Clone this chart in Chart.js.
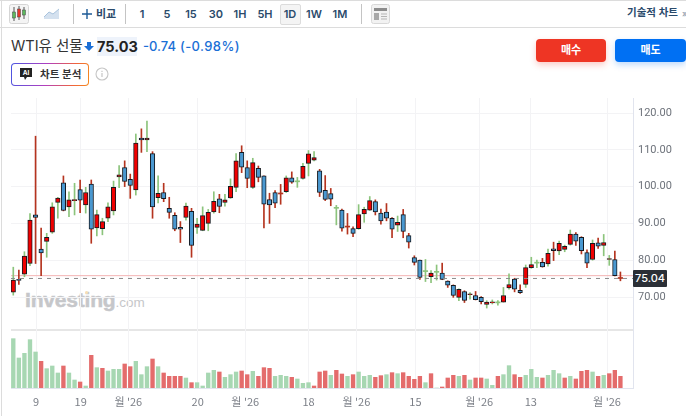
<!DOCTYPE html>
<html lang="ko">
<head>
<meta charset="utf-8">
<title>WTI유 선물</title>
<script src="https://cdn.jsdelivr.net/npm/chart.js@4/dist/chart.umd.min.js"></script>
<style>
  html, body { margin: 0; padding: 0; background: #fff; }
  body { width: 686px; height: 416px; overflow: hidden; position: relative; font-family: Inter, "Noto Sans CJK KR", sans-serif; color: #1f2a37; }
  .abs { position: absolute; white-space: nowrap; }
  #grafico { position: absolute; left: 0; top: 0; }
  .tb { top: 5px; height: 18px; line-height: 18px; font-size: 11px; font-weight: 600; color: #2a4a6b; text-align: center; width: 24px; }
  .hline { height: 1px; background: #dcdcdc; left: 0; width: 686px; }
  .vline { width: 1px; background: #c4c4c4; top: 4px; height: 20px; }
  .marca { left: 25px; top: 288px; font-family: "Liberation Sans", sans-serif; color: #c6c7ca; font-size: 21px; font-weight: 700; letter-spacing: -0.2px; -webkit-text-stroke: 0.5px #c6c7ca; }
  .marca span { font-size: 13.5px; font-weight: 400; letter-spacing: 0; -webkit-text-stroke: 0; }
  .btn { top: 39px; height: 23px; line-height: 23px; border-radius: 4px; color: #fff; font-size: 11px; font-weight: 700; text-align: center; }
</style>
</head>
<body>
<div class="abs hline" style="top:0"></div>
<div class="abs hline" style="top:27px"></div>
<div class="abs" style="left:1px;top:0;width:1px;height:416px;background:#dcdcdc"></div>

<svg class="abs" style="left:9px;top:4px" width="20" height="20">
  <rect x="0.5" y="0.5" width="19" height="19" rx="2" fill="#f4f4f4" stroke="#d5d5d5"/>
  <path d="M5 3v14M10 2v14M15 3v12" stroke="#555" stroke-width="1"/>
  <rect x="3.5" y="8" width="3" height="6" fill="#5cb85c" stroke="#444" stroke-width="0.5"/>
  <rect x="8.5" y="5" width="3" height="8" fill="#e8352a" stroke="#444" stroke-width="0.5"/>
  <rect x="13.5" y="6" width="3" height="5" fill="#5cb85c" stroke="#444" stroke-width="0.5"/>
</svg>
<svg class="abs" style="left:44px;top:8px" width="16" height="12">
  <path d="M0 9 L5 4 L9 6 L15 1 V11 H0 Z" fill="#d4e1ef"/>
  <path d="M0 9 L5 4 L9 6 L15 1" fill="none" stroke="#a9c3dd"/>
</svg>
<div class="abs vline" style="left:73px"></div>
<svg class="abs" style="left:81px;top:8px" width="12" height="12"><path d="M6 1v10M1 6h10" stroke="#1c5a96" stroke-width="1.4"/></svg>
<div class="abs tb" style="left:94px;width:24px">비교</div>
<div class="abs vline" style="left:125px"></div>
<div class="abs tb" style="left:130px">1</div>
<div class="abs tb" style="left:155px">5</div>
<div class="abs tb" style="left:179px">15</div>
<div class="abs tb" style="left:204px">30</div>
<div class="abs tb" style="left:228px">1H</div>
<div class="abs tb" style="left:253px">5H</div>
<div class="abs" style="left:280px;top:4px;width:19px;height:19px;background:#f4f4f4;border:1px solid #dcdcdc;border-radius:2px"></div>
<div class="abs tb" style="left:278px">1D</div>
<div class="abs tb" style="left:302px">1W</div>
<div class="abs tb" style="left:328px">1M</div>
<div class="abs vline" style="left:361px"></div>
<svg class="abs" style="left:371px;top:4px" width="19" height="20">
  <rect x="0.5" y="0.5" width="18" height="19" rx="2" fill="#f2f2f2" stroke="#d8d8d8"/>
  <rect x="3" y="4" width="13" height="3" fill="#8c8c8c"/>
  <rect x="3" y="9" width="5" height="7" fill="#a8a8a8"/>
  <path d="M10 10h6M10 12.5h6M10 15h6" stroke="#b5b5b5"/>
</svg>
<div class="abs" style="left:627px;top:4px;font-size:10.5px;font-weight:600;color:#2a4a6b;line-height:18px">기술적 차트</div>
<div class="abs" style="left:682px;top:7px;font-size:9px;color:#7a8ca0;line-height:14px">»</div>

<div class="abs" style="left:11px;top:36px;font-size:14.5px;line-height:20px;color:#333">WTI유 선물</div>
<svg class="abs" style="left:84px;top:41px" width="10" height="11"><path d="M3 1h4v4h3L5 10 0 5h3z" fill="#1a6fd6"/></svg>
<div class="abs" style="left:97px;top:37px;width:40px;height:19px;background:#eef3fb;font-size:14.5px;font-weight:700;line-height:19px;text-align:center;color:#222">75.03</div>
<div class="abs" style="left:143px;top:37px;font-size:13px;font-weight:500;line-height:19px;color:#1a6fd6">-0.74</div>
<div class="abs" style="left:180px;top:37px;font-size:13px;font-weight:500;line-height:19px;color:#1a6fd6;letter-spacing:0.4px">(-0.98%)</div>

<div class="abs btn" style="left:536px;width:70px;background:#ee3524;box-shadow:0 3px 6px rgba(238,53,36,.25)">매수</div>
<div class="abs btn" style="left:615px;width:71px;background:#0070f3;box-shadow:0 3px 6px rgba(0,112,243,.25)">매도</div>

<div class="abs" style="left:11px;top:63px;width:78px;height:23px;border-radius:4px;background:linear-gradient(100deg,#4a56e2,#b03fc0 45%,#f0643c 80%,#f58a1f);padding:0"></div>
<div class="abs" style="left:12px;top:64px;width:76px;height:21px;border-radius:3px;background:#fff"></div>
<svg class="abs" style="left:19px;top:67px" width="14" height="14">
  <path d="M1 1h12v9H8l-2 3-1-3H1z" fill="#222"/>
  <text x="7" y="8.2" font-size="6.5" font-weight="700" fill="#fff" text-anchor="middle" font-family="Inter">AI</text>
</svg>
<div class="abs" style="left:40px;top:65px;font-size:10.5px;font-weight:600;line-height:19px;color:#333">차트 분석</div>
<svg class="abs" style="left:95px;top:67px" width="14" height="14">
  <circle cx="7" cy="7" r="6" fill="none" stroke="#c6c6c6" stroke-width="1.1"/>
  <path d="M7 6v4M7 3.8v1.2" stroke="#c6c6c6" stroke-width="1.2"/>
</svg>

<div class="abs marca">Investing<span>.com</span></div>
<div class="abs" style="left:85px;top:291px;width:3px;height:3px;background:#f7dfb5;border-radius:50%"></div>
<div class="abs" style="left:11px;top:329px;width:622px;height:2px;background:#e6e6e6"></div>

<canvas id="grafico" width="686" height="416"></canvas>

<div class="abs" style="left:633px;top:270px;width:34px;height:17px;line-height:17px;background:#2b2f36;color:#fff;font-size:11px;font-weight:500;text-align:center;border-radius:1px">75.04</div>

<script>
// Valores, um candle por posição
const candleOpen = [
  71.3, 74.8, 76.2, 79.1, 92.3, 83.0, 85.1, 87.6, 95.7, 101.0,
  94.5, 96.2, 99.2, 95.0, 100.7, 88.8, 88.6, 91.4, 93.4, 102.6,
  105.2, 102.0, 99.1, 113.2, 112.7, 109.0, 97.0, 98.4, 94.1, 92.2,
  88.9, 91.6, 93.3, 88.9, 88.1, 90.0, 93.1, 96.7, 95.7, 96.9,
  99.8, 109.3, 105.2, 99.8, 105.0, 102.9, 96.5, 98.4, 98.02, 98.6,
  102.4, 101.3, 102.2, 106.3, 107.2, 104.3, 99.0, 98.1, 94.1, 93.6,
  89.02, 88.6, 88.6, 92.6, 93.6, 95.9, 92.8, 93.1, 91.4, 89.5,
  92.4, 86.7, 80.7, 80.0, 76.9, 75.5, 76.7, 76.5, 74.3, 73.2,
  69.9, 71.5, 70.6, 70.4, 69.9, 68.0, 68.4, 68.4, 68.6, 72.5,
  74.9, 71.8, 73.4, 78.0, 79.2, 79.4, 79.0, 83.1, 82.5, 82.9,
  84.3, 87.1, 86.2, 82.1, 80.2, 84.7, 84.0, 80.2, 80.2, 75.05
];
const candleClose = [
  74.6, 74.5, 81.1, 90.9, 91.6, 82.0, 86.2, 94.5, 96.9, 93.5,
  96.4, 96.4, 96.3, 98.4, 88.4, 92.4, 90.5, 94.5, 99.8, 103.2,
  101.4, 100.3, 111.8, 112.7, 113.2, 94.5, 98.2, 96.7, 93.0, 88.4,
  88.4, 94.7, 84.0, 89.8, 92.1, 93.0, 96.0, 94.6, 96.4, 100.1,
  107.0, 105.3, 102.2, 106.5, 102.5, 95.2, 95.0, 95.5, 98.0, 102.4,
  101.2, 101.3, 105.5, 108.9, 107.9, 98.4, 96.5, 96.6, 94.1, 88.7,
  89.0, 87.3, 92.4, 93.8, 96.2, 93.1, 90.7, 91.4, 88.4, 90.3,
  87.8, 84.9, 79.4, 75.3, 76.9, 76.5, 76.7, 74.8, 73.2, 70.4,
  72.1, 69.1, 70.8, 69.3, 68.7, 68.6, 68.6, 68.4, 70.4, 73.4,
  72.1, 71.2, 78.0, 78.8, 79.2, 78.2, 81.9, 82.6, 84.6, 83.8,
  87.1, 85.2, 82.6, 79.2, 84.6, 83.8, 84.8, 80.4, 75.8, 75.03
];
const candleHigh = [
  78.1, 77.3, 82.3, 92.7, 113.7, 88.7, 87.3, 95.6, 97.1, 102.9,
  98.6, 100.9, 101.8, 99.8, 101.8, 93.6, 91.4, 95.6, 101.5, 105.7,
  107.0, 103.4, 114.3, 115.7, 117.8, 109.5, 102.9, 100.9, 97.1, 92.9,
  90.5, 95.5, 94.1, 91.4, 94.5, 93.8, 98.6, 97.9, 97.9, 102.1,
  109.0, 111.1, 107.0, 107.7, 105.6, 102.9, 98.2, 98.9, 100.6, 102.9,
  104.0, 102.5, 106.3, 109.8, 109.5, 104.7, 103.0, 99.5, 94.9, 93.9,
  92.7, 89.1, 95.1, 94.4, 97.3, 96.4, 93.9, 95.4, 91.6, 92.0,
  93.8, 87.3, 81.2, 80.0, 80.2, 77.2, 78.7, 79.2, 74.4, 73.3,
  72.2, 71.7, 71.2, 71.5, 70.1, 69.0, 69.2, 69.0, 72.6, 76.3,
  75.1, 73.3, 78.7, 80.8, 80.0, 80.5, 83.0, 84.9, 85.2, 84.1,
  88.2, 87.5, 86.4, 82.8, 85.5, 86.0, 87.0, 81.3, 82.5, 76.8
];
const candleLow = [
  70.5, 73.4, 75.5, 78.5, 79.1, 75.8, 80.8, 87.3, 91.4, 93.4,
  91.8, 92.3, 92.9, 92.8, 84.6, 86.6, 86.9, 90.5, 92.3, 99.7,
  100.0, 96.8, 97.7, 109.3, 109.5, 91.4, 95.6, 95.9, 91.4, 88.0,
  84.8, 90.9, 80.8, 87.3, 88.0, 88.0, 92.8, 92.9, 94.7, 96.8,
  98.6, 103.8, 99.7, 99.5, 101.3, 88.8, 90.0, 94.3, 95.2, 98.4,
  100.9, 99.8, 102.0, 102.9, 107.0, 97.3, 96.2, 94.8, 89.6, 87.9,
  87.1, 86.4, 88.4, 90.3, 93.5, 92.3, 89.8, 90.7, 86.1, 87.8,
  86.1, 83.3, 78.7, 74.8, 74.2, 73.9, 74.6, 74.7, 72.6, 69.9,
  69.0, 68.5, 69.4, 69.2, 68.1, 67.0, 68.1, 67.8, 68.6, 72.1,
  71.4, 71.0, 72.6, 77.8, 78.0, 78.1, 78.4, 79.9, 81.5, 82.3,
  84.1, 84.0, 81.7, 78.0, 80.0, 83.2, 81.2, 78.6, 75.7, 74.4
];
const volumes = [
  148, 90, 104, 145, 108, 80, 58, 66, 45, 66,
  45, 24, 18, 6, 98, 61, 59, 51, 56, 56,
  72, 64, 80, 40, 64, 87, 64, 45, 35, 35,
  35, 30, 16, 16, 6, 45, 53, 48, 32, 40,
  48, 51, 40, 50, 35, 61, 59, 35, 38, 35,
  32, 27, 14, 16, 6, 48, 51, 38, 53, 42,
  35, 40, 48, 35, 38, 32, 37, 40, 46, 43,
  46, 35, 26, 35, 16, 43, 0, 3, 30, 38,
  35, 38, 24, 30, 30, 27, 8, 35, 40, 67,
  40, 32, 38, 56, 32, 30, 38, 53, 43, 30,
  35, 27, 50, 53, 48, 35, 38, 43, 53, 35
];
// 1 = barra verde, 0 = barra vermelha
const volumeGreen = [
  1, 1, 1, 1, 1, 0, 1, 1, 1, 0,
  1, 1, 0, 1, 0, 1, 0, 1, 1, 1,
  0, 0, 1, 1, 1, 0, 1, 0, 0, 0,
  0, 1, 0, 1, 1, 1, 1, 0, 1, 1,
  1, 0, 0, 1, 0, 0, 0, 1, 1, 1,
  0, 1, 1, 1, 0, 0, 0, 1, 0, 0,
  1, 0, 1, 1, 1, 0, 0, 1, 0, 1,
  0, 0, 0, 0, 1, 0, 1, 0, 0, 0,
  1, 0, 1, 0, 0, 1, 1, 0, 1, 1,
  0, 0, 1, 1, 1, 0, 1, 1, 1, 0,
  1, 0, 0, 0, 1, 0, 1, 0, 0, 0
];
const priceTicks = [70, 80, 90, 100, 110, 120];
const xTickLabels = ["9", "19", "월 '26", "20", "월 '26", "18", "월 '26", "15", "월 '26", "13", "월 '26"];
const xTickPositions = [4.1, 12.1, 20.65, 33.1, 41.65, 53, 61.6, 72.2, 83.65, 92.9, 106.6];
const lastPrice = 75.04;
const prevPrice = 75.8;

// Limites dos eixos
const xMin = -0.41;
const xMax = 111.26;
const priceMin = 45.27;
const priceMax = 124.08;
const volumeMax = 870;

const corPrecoSobe = "#f00000";
const corPrecoCai = "#4a98d0";
const corPavioSobe = "#8cc47c";
const corPavioCai = "#b5341f";

function sobe(i) {
  return candleClose[i] >= candleOpen[i];
}

function ehCruz(i) {
  return Math.abs(candleClose[i] - candleOpen[i]) < 0.05;
}

function corPavio(i) {
  return sobe(i) ? corPavioSobe : corPavioCai;
}

const labels = candleOpen.map((_, i) => i);

const grafico = new Chart(document.getElementById("grafico"), {
  type: "bar",
  data: {
    datasets: [
      {
        label: "volume",
        yAxisID: "yVolume",
        data: labels.map(i => ({ x: i, y: volumes[i] })),
        backgroundColor: labels.map(i => (volumeGreen[i] ? "#a7d7b2" : "#e46c6c")),
        barThickness: 3.7,
        grouped: false,
        order: 5
      },
      {
        label: "pavio",
        yAxisID: "y",
        data: labels.map(i => ({ x: i, y: [candleLow[i], candleHigh[i]] })),
        backgroundColor: labels.map(corPavio),
        barThickness: 1,
        grouped: false,
        order: 3
      },
      {
        label: "corpo",
        yAxisID: "y",
        data: labels.map(i => ({ x: i, y: [candleOpen[i], candleClose[i]] })),
        backgroundColor: labels.map(i => (ehCruz(i) ? corPavio(i) : (sobe(i) ? corPrecoSobe : corPrecoCai))),
        borderColor: "#15191f",
        borderWidth: labels.map(i => (ehCruz(i) ? 0 : 1)),
        borderSkipped: false,
        barThickness: 4.5,
        minBarLength: 1,
        grouped: false,
        order: 2
      },
      {
        type: "line",
        label: "anterior",
        yAxisID: "y",
        data: [{ x: xMin, y: prevPrice }, { x: xMax, y: prevPrice }],
        borderColor: "#f3b3b3",
        borderWidth: 1,
        pointRadius: 0,
        order: 4
      },
      {
        type: "line",
        label: "último",
        yAxisID: "y",
        data: [{ x: xMin, y: lastPrice }, { x: xMax, y: lastPrice }],
        borderColor: "#8a8a8a",
        borderWidth: 1,
        borderDash: [4, 5],
        pointRadius: 0,
        order: 1
      }
    ]
  },
  options: {
    responsive: false,
    animation: false,
    layout: { padding: { left: 11, top: 98, right: 0, bottom: 0 } },
    plugins: { legend: { display: false }, tooltip: { enabled: false } },
    scales: {
      x: {
        type: "linear",
        offset: false,
        min: xMin,
        max: xMax,
        afterBuildTicks: scale => { scale.ticks = xTickPositions.map(v => ({ value: v })); },
        afterFit: scale => { scale.height = 28; },
        grid: { color: "#f3f3f5", drawTicks: false, offset: false },
        border: { color: "#e1e4ee" },
        ticks: {
          autoSkip: false,
          maxRotation: 0,
          padding: 7,
          color: "#7b7f87",
          font: { size: 11, family: "'Noto Sans CJK KR', sans-serif" },
          callback: (value, index) => xTickLabels[index]
        }
      },
      y: {
        position: "right",
        min: priceMin,
        max: priceMax,
        afterBuildTicks: scale => { scale.ticks = priceTicks.map(v => ({ value: v })); },
        afterFit: scale => { scale.width = 53; },
        grid: { color: "#f3f3f5", drawTicks: false },
        border: { color: "#e1e4ee" },
        ticks: {
          padding: 5,
          color: "#6e737b",
          font: { size: 11, family: "Roboto, sans-serif" },
          callback: value => value.toFixed(2)
        }
      },
      yVolume: { display: false, min: 0, max: volumeMax }
    }
  }
});
</script>
</body>
</html>
